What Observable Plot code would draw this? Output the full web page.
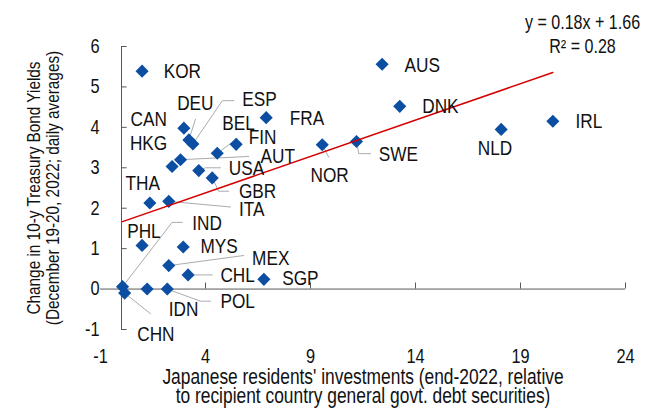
<!DOCTYPE html>
<html>
<head>
<meta charset="utf-8">
<script src="https://cdn.jsdelivr.net/npm/d3@7"></script>
<script src="https://cdn.jsdelivr.net/npm/@observablehq/plot@0.6"></script>
<style>
  html, body { margin: 0; padding: 0; background: #fff; }
  #chart svg { display: block; }
</style>
</head>
<body>
<div id="chart"></div>
<script>
// Japanese holdings of foreign government debt vs. the change in 10-year yields
const countries = ["KOR","CAN","DEU","ESP","FRA","BEL","FIN","AUT","HKG","USA","GBR","THA","ITA","PHL",
                   "MYS","MEX","CHL","SGP","IDN","POL","IND","CHN","NOR","SWE","AUS","DNK","NLD","IRL"];
// Japanese residents' investments, % of recipient general government debt securities
const investShare = [0.98, 2.97, 3.21, 3.40, 6.89, 4.56, 5.46, 2.81, 2.41, 3.68, 4.32, 1.35, 2.25, 0.98,
                     2.94, 2.25, 3.17, 6.78, 1.22, 2.18, 0.05, 0.15, 9.56, 11.19, 12.41, 13.25, 18.08, 20.54];
// Change in 10-y treasury bond yields (December 19-20, 2022; daily averages)
const yieldChange = [5.39, 3.98, 3.69, 3.59, 4.24, 3.36, 3.58, 3.20, 3.03, 2.93, 2.75, 2.13, 2.17, 1.08,
                     1.04, 0.58, 0.35, 0.24, 0.00, 0.00, 0.06, -0.10, 3.57, 3.65, 5.56, 4.52, 3.95, 4.15];

const xTicks = [-1, 4, 9, 14, 19, 24];
const yTicks = [-1, 0, 1, 2, 3, 4, 5, 6];

// Linear trend fitted to the points
const trendSlope = 0.18;
const trendIntercept = 1.66;
const rSquared = 0.28;

// Where each country tag sits (in chart units)
const labelSpots = {
  KOR: [2.01, 5.39], CAN: [0.43, 4.19], HKG: [0.40, 3.61], DEU: [2.65, 4.60], ESP: [5.75, 4.69],
  BEL: [4.80, 4.10], FIN: [6.06, 3.75], AUT: [6.62, 3.28], USA: [5.11, 2.98], GBR: [5.59, 2.42],
  FRA: [8.01, 4.23], NOR: [9.00, 2.82], SWE: [12.25, 3.33], AUS: [13.48, 5.54], DNK: [14.32, 4.52],
  NLD: [16.97, 3.48], IRL: [21.62, 4.14], THA: [0.19, 2.62], ITA: [5.59, 1.97], PHL: [0.27, 1.44],
  IND: [3.37, 1.62], MYS: [3.76, 1.05], MEX: [6.22, 0.77], CHL: [4.71, 0.35], SGP: [7.65, 0.27],
  POL: [4.71, -0.30], IDN: [2.25, -0.51], CHN: [0.75, -1.13]
};
// Leader lines: bends after leaving the marker (in chart units)
const leaderBends = {
  DEU: [[3.52, 4.20]],
  ESP: [[4.80, 4.66], [5.35, 4.66]],
  BEL: [[5.51, 3.72]],
  AUT: [[6.06, 3.28]],
  USA: [[4.00, 3.00], [4.71, 3.00]],
  GBR: [[4.63, 2.42], [5.11, 2.42]],
  ITA: [[5.19, 2.03]],
  MEX: [[5.82, 0.83]],
  CHL: [[4.32, 0.35]],
  POL: [[3.76, -0.30], [4.24, -0.30]],
  IND: [[2.41, 1.65], [2.89, 1.65]],
  CHN: [[1.38, -0.61]],
  NOR: [[9.87, 3.26]],
  SWE: [[11.30, 3.35], [11.86, 3.35]]
};

const points = countries.map((c, i) => ({country: c, x: investShare[i], y: yieldChange[i]}));
const byCountry = new Map(points.map(p => [p.country, p]));
const tags = points.map(p => ({text: p.country, x: labelSpots[p.country][0], y: labelSpots[p.country][1]}));
const leaders = Object.entries(leaderBends).flatMap(([c, bends]) => {
  const p = byCountry.get(c);
  return [[p.x, p.y], ...bends].map(([x, y]) => ({id: c, x, y}));
});
const trend = d3.extent(investShare).map(x => ({x, y: trendSlope * x + trendIntercept}));
const equation = `y = ${trendSlope.toFixed(2)}x + ${trendIntercept.toFixed(2)}\nR² = ${rSquared.toFixed(2)}`;

const ink = "#111";
const axisInk = "#595959";
const face = '"Liberation Sans", Arial, sans-serif';
const narrowing = 0.82; // Arial Narrow proportions

const chart = Plot.plot({
  width: 656,
  height: 412,
  marginLeft: 100,
  marginRight: 31,
  marginTop: 46,
  marginBottom: 83,
  style: {fontFamily: face, fontSize: "20px", color: ink, background: "#fff"},
  x: {domain: [-1, 24], axis: null},
  y: {domain: [-1, 6], axis: null},
  marks: [
    // tick labels sit at the low edge of the frame
    Plot.axisY({ticks: yTicks, anchor: "left", tickSize: 0, tickPadding: 1, tickFormat: d => String(d), label: null, fontSize: 20, fill: ink}),
    Plot.axisX({ticks: xTicks, anchor: "bottom", tickSize: 0, tickPadding: 19, tickFormat: d => String(d), label: null, fontSize: 20, fill: ink}),
    // axis lines cross at the origin
    Plot.ruleY([0], {x1: -1, x2: 24, stroke: axisInk, strokeWidth: 1}),
    Plot.ruleX([0], {y1: -1, y2: 6, stroke: axisInk, strokeWidth: 1}),
    Plot.ruleY(yTicks, {x1: 0, x2: 0.27, stroke: axisInk, strokeWidth: 1}),
    Plot.ruleX(xTicks.filter(d => d > 0), {y1: 0, y2: 0.15, stroke: axisInk, strokeWidth: 1}),
    // leader lines
    Plot.line(leaders, {x: "x", y: "y", z: "id", stroke: "#ababab", strokeWidth: 1}),
    // markers
    Plot.dot(points, {x: "x", y: "y", symbol: "diamond2", r: 5.9, fill: "#0b4ea2", stroke: "none"}),
    // trend line
    Plot.line(trend, {x: "x", y: "y", stroke: "#d40000", strokeWidth: 1.5}),
    // country tags
    Plot.text(tags, {x: "x", y: "y", text: "text", textAnchor: "start", lineAnchor: "middle", fontSize: 21, fill: ink}),
    // equation of the trend
    Plot.text([equation], {text: d => d, frameAnchor: "top", dx: 219.5, dy: -13.4, textAnchor: "middle", lineAnchor: "middle", lineHeight: 1.22, fontSize: 19.6, fill: ink}),
    // axis titles
    Plot.text(["Japanese residents' investments (end-2022, relative\nto recipient country general govt. debt securities)"],
      {text: d => d, frameAnchor: "bottom", dy: 57.6, textAnchor: "middle", lineAnchor: "middle", lineHeight: 0.89, fontSize: 21.2, fill: ink}),
    Plot.text(["Change in 10-y Treasury Bond Yields\n(December 19-20, 2022; daily averages)"],
      {text: d => d, frameAnchor: "left", rotate: -90, dx: -57.5, textAnchor: "middle", lineAnchor: "middle", lineHeight: 1.02, fontSize: 18.7, fill: ink})
  ]
});

// Condense every text along its own baseline, about its anchor point
chart.querySelectorAll("text").forEach(t => {
  const x = +t.getAttribute("x") || 0, y = +t.getAttribute("y") || 0;
  const tr = t.getAttribute("transform") || "";
  t.setAttribute("transform", `${tr} translate(${x},${y}) scale(${narrowing},1) translate(${-x},${-y})`);
});

document.getElementById("chart").append(chart);
</script>
</body>
</html>
